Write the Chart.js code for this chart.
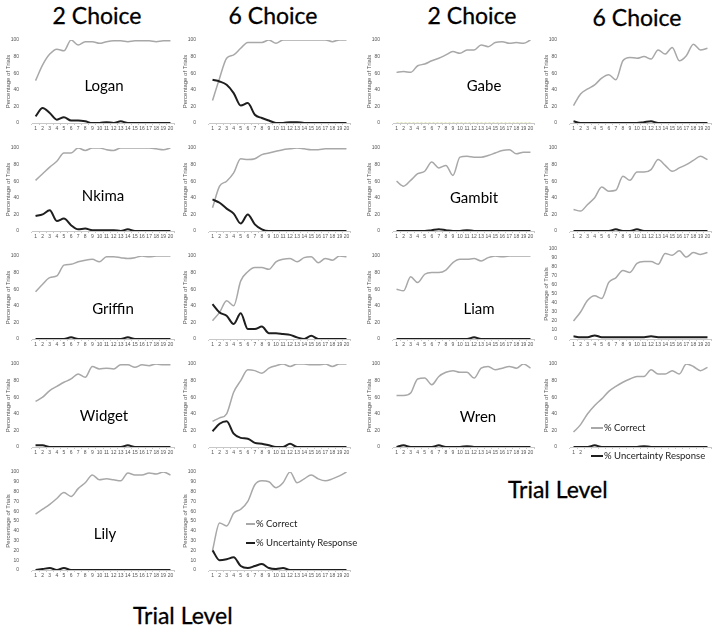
<!DOCTYPE html>
<html><head><meta charset="utf-8">
<script src="https://cdn.jsdelivr.net/npm/chart.js@4"></script>
<style>
body{margin:0;background:#fff;width:724px;height:632px;position:relative;overflow:hidden;font-family:Lato,"Open Sans",sans-serif}
canvas{position:absolute}
.t{position:absolute;white-space:nowrap;color:#000;line-height:1}
.h{font-size:23px;font-weight:normal;transform:translateX(-50%);-webkit-text-stroke:0.3px #000}
.n{font-size:15px;transform:translate(-50%,-50%)}
.lg{font-size:9.5px;transform:translateY(-50%);color:#222}
.sw{position:absolute;height:2px}
.bg{position:absolute;background:#fff}
</style>
</head><body>
<script>
// ---------- data ----------
const trialLabels = ['1','2','3','4','5','6','7','8','9','10','11','12','13','14','15','16','17','18','19','20'];

const logan2Correct = [51,70,83,89,87,100,94,98,98,96,98,99,99,98,99,99,99,98,99,99];
const logan2Uncertain = [8,18,12,4,7,3,3,2,0,0,1,0,2,0,0,0,0,0,0,0];
const logan6Correct = [27,54,78,82,90,97,97,97,100,96,100,100,100,100,100,100,100,98,100,100];
const logan6Uncertain = [52,50,46,36,21,24,10,6,3,0,0,1,1,0,0,0,0,0,0,0];

const nkima2Correct = [61,69,77,84,94,94,100,97,100,100,98,97,100,100,100,100,100,99,98,100];
const nkima2Uncertain = [18,20,25,12,15,7,2,3,1,1,1,1,0,2,0,0,0,0,0,0];
const nkima6Correct = [28,54,60,70,87,86,87,92,94,96,98,99,100,99,98,98,99,99,99,99];
const nkima6Uncertain = [38,34,27,21,9,20,8,2,0,0,0,0,0,0,0,0,0,0,0,0];

const griffin2Correct = [57,66,74,76,89,90,93,95,96,93,99,99,98,97,98,100,99,100,100,100];
const griffin2Uncertain = [0,0,0,0,0,2,0,0,0,0,0,0,0,2,0,0,0,0,0,0];
const griffin6Correct = [22,32,46,40,70,81,86,86,84,93,96,97,93,98,99,92,97,95,100,99];
const griffin6Uncertain = [42,32,28,18,31,12,12,15,7,7,6,5,2,0,4,0,0,0,0,0];

const widget2Correct = [55,60,68,73,78,82,88,84,97,94,95,94,99,99,96,99,98,100,99,99];
const widget2Uncertain = [2,2,0,0,0,0,0,0,0,0,0,0,0,2,0,0,0,0,0,0];
const widget6Correct = [31,35,40,66,80,93,92,89,95,98,100,97,100,100,99,99,100,97,100,100];
const widget6Uncertain = [19,28,31,16,11,10,5,4,2,0,0,4,0,0,0,0,0,0,0,0];

const lily2Correct = [57,62,67,73,79,75,83,89,97,92,93,92,91,99,97,97,99,98,100,97];
const lily2Uncertain = [0,1,2,0,2,0,0,0,0,0,0,0,0,0,0,0,0,0,0,0];
const lily6Correct = [20,48,45,58,62,70,87,91,90,84,89,100,89,93,97,93,91,93,96,100];
const lily6Uncertain = [20,10,11,13,4,2,4,6,2,1,2,0,0,0,0,0,0,0,0,0];

const gabe2Correct = [61,62,61,69,71,75,78,82,86,84,88,88,94,92,97,98,96,97,96,100];
const gabe2Uncertain = [0,0,0,0,0,0,0,0,0,0,0,0,0,0,0,0,0,0,0,0];
const gabe6Correct = [21,35,41,46,54,58,52,75,79,78,80,77,88,83,91,75,81,95,88,90];
const gabe6Uncertain = [2,0,0,0,0,0,0,0,0,0,1,2,0,0,0,0,0,0,0,0];

const gambit2Correct = [60,54,61,69,72,83,76,79,67,89,90,89,89,91,94,97,98,93,95,95];
const gambit2Uncertain = [0,0,0,0,0,1,2,1,0,0,1,0,0,0,0,0,0,0,0,0];
const gambit6Correct = [26,24,32,40,53,48,49,66,61,71,71,74,86,79,72,76,80,85,90,86];
const gambit6Uncertain = [0,0,0,0,0,0,2,0,0,2,0,0,0,0,0,0,0,0,0,0];

const liam2Correct = [60,58,75,68,78,80,80,83,92,96,96,97,94,98,100,99,100,100,100,100];
const liam2Uncertain = [0,0,0,0,0,0,0,0,0,0,0,2,0,0,0,0,0,0,0,0];
const liam6Correct = [20,30,43,48,45,63,68,76,74,84,86,86,83,95,93,98,91,96,94,96];
const liam6Uncertain = [3,2,2,4,2,2,2,2,2,2,2,3,2,2,2,2,2,2,2,2];

const wren2Correct = [62,62,65,82,83,75,85,90,92,90,90,83,95,97,93,95,97,95,100,95];
const wren2Uncertain = [0,2,0,0,0,0,2,0,0,0,1,0,0,0,0,0,0,0,0,0];
const wren6Correct = [18,27,40,50,58,67,73,78,82,85,85,93,88,88,92,88,100,97,92,96];
const wren6Uncertain = [0,0,0,2,0,0,0,0,0,0,1,0,0,0,0,0,0,0,0,0];

// ---------- layout ----------
const cols = {L2:{axL:32,axW:142}, L6:{axL:209,axW:141}, R2:{axL:393,axW:141}, R6:{axL:570,axW:141}};
const rows = [[37,123],[145,231],[253,339],[361,447],[469,570]];

const panels = [
  {c:'L2',r:0,cor:logan2Correct,unc:logan2Uncertain},
  {c:'L6',r:0,cor:logan6Correct,unc:logan6Uncertain},
  {c:'L2',r:1,cor:nkima2Correct,unc:nkima2Uncertain},
  {c:'L6',r:1,cor:nkima6Correct,unc:nkima6Uncertain},
  {c:'L2',r:2,cor:griffin2Correct,unc:griffin2Uncertain},
  {c:'L6',r:2,cor:griffin6Correct,unc:griffin6Uncertain},
  {c:'L2',r:3,cor:widget2Correct,unc:widget2Uncertain},
  {c:'L6',r:3,cor:widget6Correct,unc:widget6Uncertain},
  {c:'L2',r:4,cor:lily2Correct,unc:lily2Uncertain},
  {c:'L6',r:4,cor:lily6Correct,unc:lily6Uncertain},
  {c:'R2',r:0,cor:gabe2Correct,unc:gabe2Uncertain,uncColor:'#c9d86c',dash:[2,2],uncW:1},
  {c:'R6',r:0,cor:gabe6Correct,unc:gabe6Uncertain},
  {c:'R2',r:1,cor:gambit2Correct,unc:gambit2Uncertain},
  {c:'R6',r:1,cor:gambit6Correct,unc:gambit6Uncertain},
  {c:'R2',r:2,cor:liam2Correct,unc:liam2Uncertain},
  {c:'R6',r:2,cor:liam6Correct,unc:liam6Uncertain,top:246},
  {c:'R2',r:3,cor:wren2Correct,unc:wren2Uncertain},
  {c:'R6',r:3,cor:wren6Correct,unc:wren6Uncertain}
];

const PADT=5, YW=30, XH=14, PADR=4;
panels.forEach(p=>{
  const col = cols[p.c];
  const yTop = p.top || rows[p.r][0], yBot = rows[p.r][1];
  const w = YW + col.axW + PADR, h = PADT + (yBot-yTop) + XH;
  const cv = document.createElement('canvas');
  cv.width=w; cv.height=h;
  cv.style.left=(col.axL-YW)+'px'; cv.style.top=(yTop-PADT)+'px';
  cv.style.width=w+'px'; cv.style.height=h+'px';
  document.body.appendChild(cv);
  new Chart(cv,{
    type:'line',
    data:{labels:trialLabels,datasets:[
      {label:'% Correct',data:p.cor,borderColor:'#a8a8a8',borderWidth:1.5,order:1},
      {label:'% Uncertainty Response',data:p.unc,borderColor:p.uncColor||'#1e1e1e',borderWidth:p.uncW||2,borderDash:p.dash||[],order:0}
    ]},
    options:{
      responsive:false,animation:false,devicePixelRatio:1,
      layout:{padding:{top:PADT,right:PADR,left:0,bottom:0}},
      plugins:{legend:{display:false},tooltip:{enabled:false}},
      elements:{point:{radius:0},line:{cubicInterpolationMode:'monotone'}},
      scales:{
        x:{offset:true,
           grid:{display:true,drawOnChartArea:false,tickLength:2,color:'#c8c8c8',offset:true},
           border:{display:true,color:'#c8c8c8'},
           ticks:{autoSkip:false,maxRotation:0,minRotation:0,font:{size:5,family:'Liberation Sans'},color:'#555',padding:1},
           afterFit:s=>{s.height=XH;}},
        y:{min:0,max:100,
           ticks:{stepSize:10,font:{size:5,family:'Liberation Sans'},color:'#555',padding:5},
           grid:{display:false},border:{display:false},
           title:{display:true,text:'Percentage of Trials',font:{size:6,family:'Liberation Sans'},color:'#555',padding:{top:3,bottom:0}},
           afterFit:s=>{s.width=YW;}}
      }
    }
  });
});

// ---------- text ----------
function txt(cls,text,x,y){const d=document.createElement('div');d.className='t '+cls;d.textContent=text;d.style.left=x+'px';d.style.top=y+'px';document.body.appendChild(d);return d;}
txt('h','2 Choice',97,4);
txt('h','6 Choice',273,4);
txt('h','2 Choice',472,4);
txt('h','6 Choice',637,6);
const tl1=txt('','Trial Level',133,604); tl1.style.fontSize='23px'; tl1.style.webkitTextStroke='0.3px #000';
const tl2=txt('','Trial Level',508,478); tl2.style.fontSize='23px'; tl2.style.webkitTextStroke='0.3px #000';

[['Logan',104,85],['Nkima',103,195],['Griffin',113,308],['Widget',104,415],['Lily',105,533],
 ['Gabe',484,85],['Gambit',474,197],['Liam',479,308],['Wren',478,416]].forEach(a=>txt('n',a[0],a[1],a[2]));

function legend(x,y1,y2,fs,sw,bgBox){
  if(bgBox){const b=document.createElement('div');b.className='bg';b.style.left=bgBox[0]+'px';b.style.top=bgBox[1]+'px';b.style.width=bgBox[2]+'px';b.style.height=bgBox[3]+'px';document.body.appendChild(b);}
  const s1=document.createElement('div');s1.className='sw';s1.style.background='#a8a8a8';s1.style.left=x+'px';s1.style.top=(y1-1)+'px';s1.style.width=sw+'px';document.body.appendChild(s1);
  const s2=document.createElement('div');s2.className='sw';s2.style.background='#1e1e1e';s2.style.left=x+'px';s2.style.top=(y2-1)+'px';s2.style.width=sw+'px';document.body.appendChild(s2);
  const a=txt('lg','% Correct',x+sw+1,y1);a.style.fontSize=fs+'px';
  const b=txt('lg','% Uncertainty Response',x+sw+1,y2);b.style.fontSize=fs+'px';
}
legend(246,524,543,9.5,9);
legend(591,428,456,9.5,12,[586,449,128,14]);
</script>
</body></html>
